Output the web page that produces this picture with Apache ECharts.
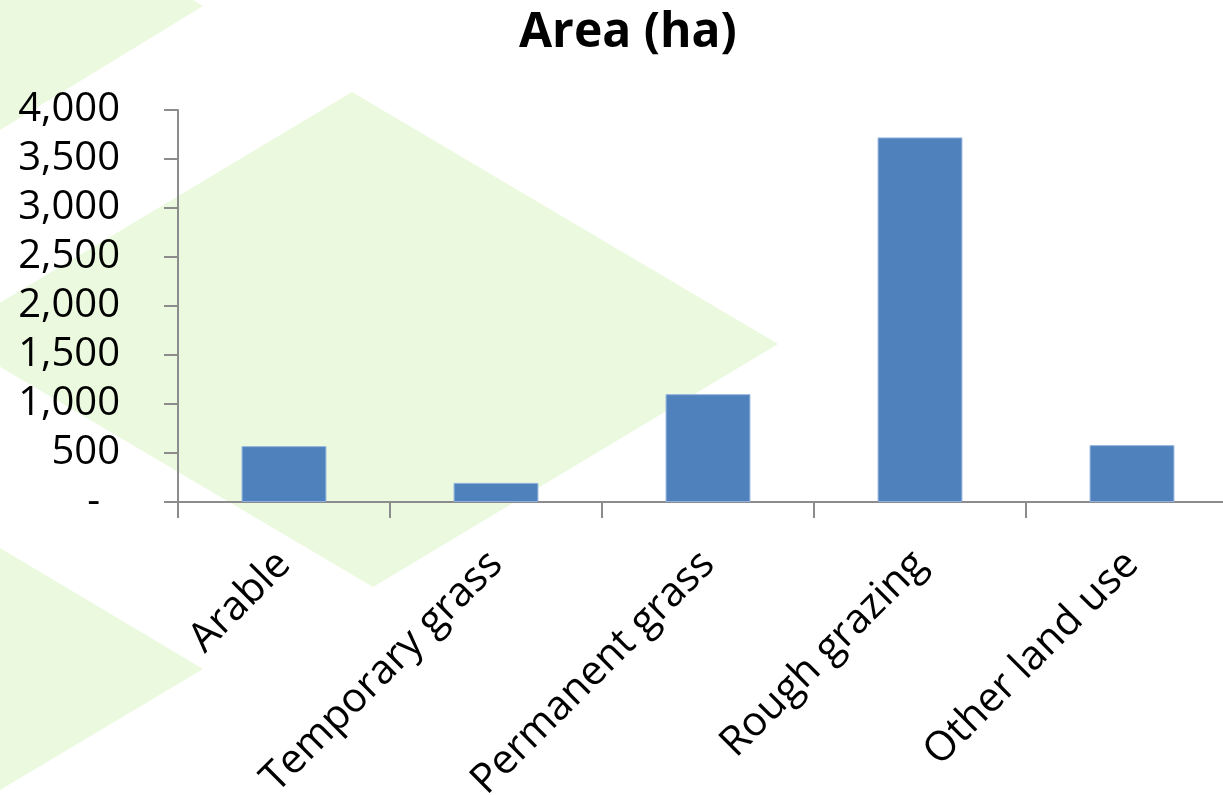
<!DOCTYPE html>
<html>
<head>
<meta charset="utf-8">
<title>Area (ha)</title>
<script src="https://cdn.jsdelivr.net/npm/echarts@6/dist/echarts.min.js"></script>
<style>
  html, body { margin: 0; padding: 0; background: #ffffff; overflow: hidden; }
  #chart { width: 1223px; height: 795px; }
</style>
</head>
<body>
<div id="chart"></div>
<script>
// Land use categories and their areas in hectares
const categories = ['Arable', 'Temporary grass', 'Permanent grass', 'Rough grazing', 'Other land use'];
const areaHa = [570, 195, 1100, 3720, 580];
const yMin = 0;
const yMax = 4000;
const yStep = 500;

// Decorative light-green chevrons behind the plot
const bgShapes = [
  [[0, 0], [193, 0], [203, 6], [0, 130]],
  [[352, 92], [778, 344], [373, 587], [-54, 335]],
  [[0, 548], [203, 669], [0, 790]]
];

const FONT = '"Open Sans", "Liberation Sans", sans-serif';
const AXIS_GRAY = '#8c8c8c';

const chart = echarts.init(document.getElementById('chart'), null, { renderer: 'canvas' });

chart.setOption({
  backgroundColor: '#ffffff',
  animation: false,
  title: {
    text: 'Area (ha)',
    left: 514,
    top: 4,
    textStyle: { fontFamily: FONT, fontWeight: 'bold', fontSize: 48, color: '#000000' }
  },
  graphic: bgShapes.map(pts => ({
    type: 'polygon',
    z: -10,
    silent: true,
    shape: { points: pts },
    style: { fill: '#ebf9de' }
  })),
  // plot area runs slightly past the right edge of the canvas
  grid: { left: 178, top: 110, width: 1060, height: 392, outerBoundsMode: 'none', containLabel: false },
  xAxis: {
    type: 'category',
    data: categories,
    axisLine: { lineStyle: { color: AXIS_GRAY, width: 2 } },
    axisTick: { show: true, length: 16, lineStyle: { color: AXIS_GRAY, width: 2 } },
    axisLabel: {
      rotate: 45,
      margin: 56,
      interval: 0,
      fontFamily: FONT,
      fontSize: 41,
      color: '#000000'
    },
    splitLine: { show: false }
  },
  yAxis: {
    type: 'value',
    min: yMin,
    max: yMax,
    interval: yStep,
    axisLine: { show: true, lineStyle: { color: AXIS_GRAY, width: 2 } },
    axisTick: { show: true, length: 14, lineStyle: { color: AXIS_GRAY, width: 2 } },
    splitLine: { show: false },
    axisLabel: {
      margin: 58,
      fontFamily: FONT,
      fontSize: 40,
      color: '#000000',
      formatter: v => v === 0 ? '{z|-}' : v.toLocaleString('en-US'),
      rich: {
        z: { fontFamily: FONT, fontSize: 40, color: '#000000', padding: [0, 20, 0, 0] }
      }
    }
  },
  series: [{
    type: 'bar',
    data: areaHa,
    barWidth: '40%',
    itemStyle: { color: '#4f81bd', borderColor: '#8fb0dc', borderWidth: 1 }
  }]
});
</script>
</body>
</html>
